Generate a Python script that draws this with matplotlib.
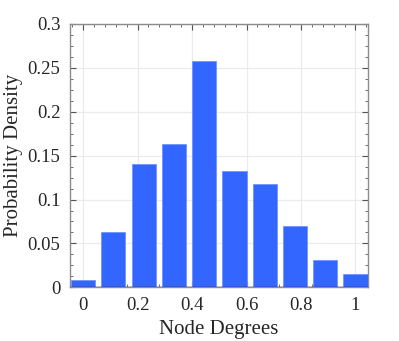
import matplotlib.pyplot as plt
import numpy as np
from matplotlib.ticker import MultipleLocator, FuncFormatter

# Histogramm-Daten (10 Klassen zwischen 0 und 1)
bin_centers = np.linspace(0, 1, 10)
density = [0.008, 0.0626, 0.1404, 0.1636, 0.2577, 0.1328, 0.1173, 0.0702, 0.0315, 0.0155]
x_ticks = [0, 0.2, 0.4, 0.6, 0.8, 1]
y_ticks = [0, 0.05, 0.1, 0.15, 0.2, 0.25, 0.3]

plt.rcParams['font.family'] = ['Liberation Serif', 'DejaVu Serif']

fig = plt.figure(figsize=(3.99, 3.41), dpi=100)
ax = fig.add_axes([70 / 399, 1 - 287.3 / 341, 298 / 399, 263.3 / 341])

# Balken zeichnen
bin_width = bin_centers[1] - bin_centers[0]
ax.bar(bin_centers, density, width=0.8 * bin_width, color='#3366ff',
       edgecolor='#7094ff', linewidth=0.6, zorder=3)
ax.axhline(0, color='#262626', linewidth=1.0, zorder=4)

ax.set_xlim(-0.048, 1.046)
ax.set_ylim(0, 0.3)
ax.set_xticks(x_ticks)
ax.set_yticks(y_ticks)
ax.xaxis.set_minor_locator(MultipleLocator(0.04))
ax.yaxis.set_minor_locator(MultipleLocator(0.0125))
ax.yaxis.set_major_formatter(FuncFormatter(lambda v, p: f'{v:g}'))
ax.xaxis.set_major_formatter(FuncFormatter(lambda v, p: f'{v:g}'))

ax.grid(True, which='major', color='#ebebeb', linewidth=0.9, zorder=0)
ax.set_axisbelow(True)

for s in ax.spines.values():
    s.set_color('#8c8c8c')
    s.set_linewidth(1.0)

ax.tick_params(which='both', direction='in', top=True, right=True,
               color='#555555', labelcolor='#262626', labelsize=13.5)
ax.tick_params(which='major', length=4, width=0.8, pad=7)
ax.tick_params(which='minor', length=2, width=0.6)

ax.set_xlabel('Node Degrees', fontsize=15, color='#262626', labelpad=4)
ax.set_ylabel('Probability Density', fontsize=15, color='#262626', labelpad=3)

plt.savefig('out.png', dpi=100)
